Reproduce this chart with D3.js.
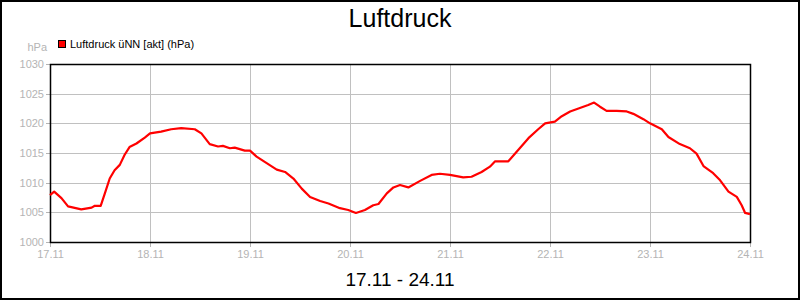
<!DOCTYPE html>
<html>
<head>
<meta charset="utf-8">
<script src="https://cdn.jsdelivr.net/npm/d3@7"></script>
<style>
  body { margin: 0; background: #fff; }
  svg { display: block; font-family: "Liberation Sans", Arial, sans-serif; }
</style>
</head>
<body>
<div id="chart"></div>
<script>
var width = 800,
    height = 300;

var margin = {top: 64, right: 50, bottom: 58, left: 50};

// Messzeitpunkte (Tag.Monat Stunde:Minute)
var times = [
  "17.11 00:00", "17.11 01:00", "17.11 02:45", "17.11 04:20", "17.11 07:30",
  "17.11 10:00", "17.11 10:45", "17.11 12:10", "17.11 13:10", "17.11 14:20",
  "17.11 15:30", "17.11 16:45", "17.11 17:55", "17.11 19:05", "17.11 20:45",
  "17.11 22:45", "18.11 00:00", "18.11 02:40", "18.11 05:05", "18.11 07:30",
  "18.11 10:45", "18.11 12:20", "18.11 14:20", "18.11 16:20", "18.11 17:30",
  "18.11 19:10", "18.11 20:20", "18.11 22:45", "19.11 00:00", "19.11 01:35",
  "19.11 04:00", "19.11 06:25", "19.11 08:25", "19.11 10:25", "19.11 12:25",
  "19.11 14:25", "19.11 16:50", "19.11 18:50", "19.11 21:35", "19.11 23:35",
  "20.11 01:25", "20.11 03:35", "20.11 05:35", "20.11 06:50", "20.11 08:50",
  "20.11 10:25", "20.11 12:00", "20.11 14:00", "20.11 16:50", "20.11 19:35",
  "20.11 21:35", "21.11 00:00", "21.11 03:10", "21.11 05:10", "21.11 07:35",
  "21.11 09:35", "21.11 10:50", "21.11 14:00", "21.11 16:00", "21.11 18:50",
  "21.11 21:10", "21.11 22:50", "22.11 01:10", "22.11 02:50", "22.11 04:50",
  "22.11 06:50", "22.11 09:10", "22.11 10:35", "22.11 12:00", "22.11 13:35",
  "22.11 16:00", "22.11 18:25", "22.11 20:00", "22.11 22:25", "23.11 00:00",
  "23.11 02:50", "23.11 04:25", "23.11 07:10", "23.11 09:35", "23.11 11:10",
  "23.11 12:50", "23.11 15:10", "23.11 16:50", "23.11 18:50", "23.11 20:50",
  "23.11 22:00", "23.11 22:50", "24.11 00:00"
];

// Luftdruck ueber NN in hPa
var pressure = [
  1007.9, 1008.5, 1007.4, 1006.0, 1005.5,
  1005.8, 1006.1, 1006.1, 1008.2, 1010.7,
  1012.1, 1013.0, 1014.7, 1016.0, 1016.6,
  1017.6, 1018.3, 1018.6, 1019.0, 1019.2,
  1019.0, 1018.3, 1016.5, 1016.1, 1016.2,
  1015.8, 1015.9, 1015.4, 1015.4, 1014.4,
  1013.3, 1012.2, 1011.8, 1010.7, 1009.0,
  1007.6, 1006.9, 1006.5, 1005.7, 1005.4,
  1004.9, 1005.4, 1006.2, 1006.4, 1008.2,
  1009.2, 1009.6, 1009.2, 1010.3, 1011.3,
  1011.5, 1011.3, 1010.9, 1011.0, 1011.8,
  1012.7, 1013.6, 1013.6, 1015.2, 1017.5,
  1019.0, 1020.0, 1020.3, 1021.2, 1022.0,
  1022.5, 1023.1, 1023.5, 1022.8, 1022.1,
  1022.1, 1022.0, 1021.6, 1020.7, 1020.0,
  1019.0, 1017.7, 1016.5, 1015.8, 1014.9,
  1012.8, 1011.6, 1010.4, 1008.5, 1007.6,
  1006.2, 1004.9, 1004.7
];

var yTicks = [1000, 1005, 1010, 1015, 1020, 1025, 1030];
var xTicks = ["17.11", "18.11", "19.11", "20.11", "21.11", "22.11", "23.11", "24.11"];

var title = "Luftdruck",
    subtitle = "17.11 - 24.11",
    seriesName = "Luftdruck üNN [akt] (hPa)",
    unit = "hPa";

var parseTime = d3.timeParse("%d.%m %H:%M"),
    parseDay = d3.timeParse("%d.%m");

var data = times.map(function(t, i) {
  return {date: parseTime(t), value: pressure[i]};
});
var xTickDates = xTicks.map(parseDay);

var gridColor = "#c0c0c0",
    labelColor = "#b4b4b4";

var svg = d3.select("#chart").append("svg")
    .attr("width", width)
    .attr("height", height);

// Rahmen
svg.append("rect")
    .attr("x", 1).attr("y", 1)
    .attr("width", width - 2).attr("height", height - 2)
    .attr("fill", "#fff")
    .attr("stroke", "#000")
    .attr("stroke-width", 2);

var x = d3.scaleTime()
    .domain([xTickDates[0], xTickDates[xTickDates.length - 1]])
    .range([margin.left, width - margin.right]);

var y = d3.scaleLinear()
    .domain([yTicks[0], yTicks[yTicks.length - 1]])
    .range([height - margin.bottom, margin.top]);

// Gitter
svg.append("g")
    .attr("transform", "translate(0," + (height - margin.bottom) + ")")
    .call(d3.axisBottom(x).tickValues(xTickDates).tickSize(-(height - margin.top - margin.bottom)).tickFormat(""))
    .call(function(g) {
      g.select(".domain").remove();
      g.selectAll("line").attr("stroke", gridColor).attr("shape-rendering", "crispEdges");
    });

svg.append("g")
    .attr("transform", "translate(" + margin.left + ",0)")
    .call(d3.axisLeft(y).tickValues(yTicks).tickSize(-(width - margin.left - margin.right)).tickFormat(""))
    .call(function(g) {
      g.select(".domain").remove();
      g.selectAll("line").attr("stroke", gridColor).attr("shape-rendering", "crispEdges");
    });

// Achsen mit Beschriftung
svg.append("g")
    .attr("transform", "translate(0," + (height - margin.bottom) + ")")
    .call(d3.axisBottom(x).tickValues(xTickDates).tickSize(5).tickPadding(3).tickFormat(d3.timeFormat("%d.%m")))
    .call(function(g) {
      g.select(".domain").remove();
      g.selectAll("line").attr("stroke", labelColor).attr("shape-rendering", "crispEdges");
      g.selectAll("text").attr("fill", labelColor).attr("font-size", 11)
          .attr("font-family", "'Liberation Sans', Arial, sans-serif");
    });

svg.append("g")
    .attr("transform", "translate(" + margin.left + ",0)")
    .call(d3.axisLeft(y).tickValues(yTicks).tickSize(4).tickPadding(2).tickFormat(d3.format("d")))
    .call(function(g) {
      g.select(".domain").remove();
      g.selectAll("line").attr("stroke", labelColor).attr("shape-rendering", "crispEdges");
      g.selectAll("text").attr("fill", labelColor).attr("font-size", 11)
          .attr("font-family", "'Liberation Sans', Arial, sans-serif");
    });

// Plotrahmen
svg.append("rect")
    .attr("x", margin.left + 0.5)
    .attr("y", margin.top + 0.5)
    .attr("width", width - margin.left - margin.right)
    .attr("height", height - margin.top - margin.bottom)
    .attr("fill", "none")
    .attr("stroke", "#000")
    .attr("stroke-width", 1.5);

// Kurve
var line = d3.line()
    .x(function(d) { return x(d.date); })
    .y(function(d) { return y(d.value); });

svg.append("path")
    .datum(data)
    .attr("fill", "none")
    .attr("stroke", "#ff0000")
    .attr("stroke-width", 2.2)
    .attr("stroke-linejoin", "round")
    .attr("d", line);

// Texte
svg.append("text")
    .attr("x", width / 2)
    .attr("y", 27)
    .attr("text-anchor", "middle")
    .attr("font-size", 25)
    .text(title);

svg.append("text")
    .attr("x", width / 2)
    .attr("y", 286)
    .attr("text-anchor", "middle")
    .attr("font-size", 19)
    .text(subtitle);

svg.append("text")
    .attr("x", 47)
    .attr("y", 51)
    .attr("text-anchor", "end")
    .attr("font-size", 11)
    .attr("fill", labelColor)
    .text(unit);

var legend = svg.append("g").attr("transform", "translate(58,40)");
legend.append("rect")
    .attr("x", 0.5).attr("y", 0.5)
    .attr("width", 7).attr("height", 7)
    .attr("fill", "#ff0000")
    .attr("stroke", "#000");
legend.append("text")
    .attr("x", 12)
    .attr("y", 8)
    .attr("font-size", 11)
    .text(seriesName);
</script>
</body>
</html>
